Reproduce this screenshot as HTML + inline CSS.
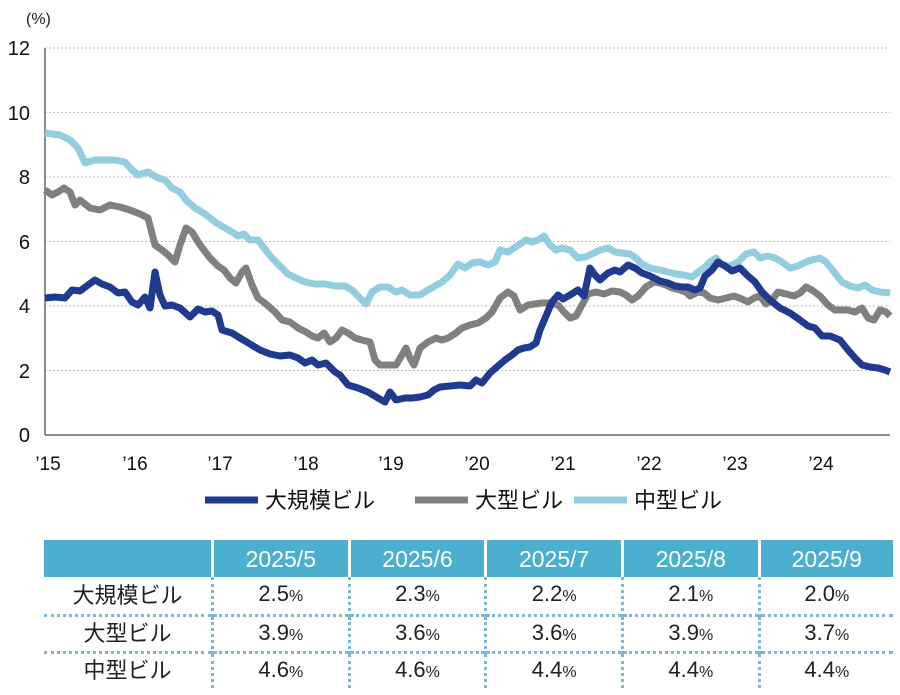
<!DOCTYPE html><html><head><meta charset="utf-8"><style>
body{margin:0;background:#fff;width:900px;height:695px;overflow:hidden;font-family:"Liberation Sans","Noto Sans CJK JP",sans-serif}
table{position:absolute;left:44px;top:540px;border-collapse:collapse;width:849px}
td{height:34px;text-align:center;font-size:22px;color:#222;padding:0;border-left:3px dotted #7fb8cc;border-top:3px dotted #7fb8cc;line-height:30px}
td:first-child{border-left:none}
tr.h td{background:#4bb0cf;color:#fff;border:none;border-left:3px solid #fff;font-size:23px;height:37px}
tr.h td:first-child{border-left:none}
tr:nth-child(2) td{border-top:none;height:37px}
small{font-size:16px}
</style></head><body>
<svg width="900" height="540" style="position:absolute;left:0;top:0" font-family="Liberation Sans, Noto Sans CJK JP, sans-serif">
<g stroke="#bbb" stroke-dasharray="2,2" stroke-width="1">
<line x1="45" x2="890" y1="48" y2="48"/><line x1="45" x2="890" y1="112.5" y2="112.5"/><line x1="45" x2="890" y1="177" y2="177"/><line x1="45" x2="890" y1="241.5" y2="241.5"/><line x1="45" x2="890" y1="306" y2="306"/><line x1="45" x2="890" y1="370.5" y2="370.5"/>
</g>
<line x1="45" x2="45" y1="48" y2="435" stroke="#666" stroke-width="1.5"/>
<line x1="45" x2="890" y1="435" y2="435" stroke="#666" stroke-width="1.5"/>
<g font-size="20" fill="#111" text-anchor="end">
<text x="30" y="55">12</text><text x="30" y="120">10</text><text x="30" y="184">8</text><text x="30" y="249">6</text><text x="30" y="313">4</text><text x="30" y="378">2</text><text x="30" y="442">0</text></g>
<text x="26" y="24" font-size="16" fill="#222">(%)</text>
<g font-size="19" fill="#111" text-anchor="middle">
<text x="48" y="470">’15</text><text x="135" y="470">’16</text><text x="220" y="470">’17</text><text x="306" y="470">’18</text><text x="391" y="470">’19</text><text x="477" y="470">’20</text><text x="563" y="470">’21</text><text x="649" y="470">’22</text><text x="735" y="470">’23</text><text x="821" y="470">’24</text></g>
<g fill="none" stroke-width="7" stroke-linejoin="round">
<polyline stroke="#92cde0" points="45,133 60,135 70,140 78,148 85,163 95,160 105,160 115,160 125,162 132,170 138,175 148,172 158,178 165,180 172,188 180,192 186,200 195,208 205,214 215,222 225,228 232,232 238,236 244,234 250,240 258,240 264,248 272,258 280,266 288,274 296,278 305,282 315,284 325,284 335,286 345,286 352,290 360,298 366,304 372,292 380,287 388,287 396,292 402,290 410,295 420,295 428,290 435,286 442,282 450,275 458,264 465,268 472,263 480,262 488,265 495,262 500,250 508,252 514,248 520,244 526,240 532,242 538,240 544,236 550,245 556,250 562,248 570,250 578,258 585,257 592,254 600,250 608,248 615,252 622,253 630,254 636,258 642,264 650,268 660,270 668,272 676,274 684,275 692,277 698,272 704,268 710,262 716,258 722,265 730,266 738,262 746,254 754,252 760,258 768,256 775,258 782,262 790,268 798,266 806,262 812,260 820,258 826,262 834,272 842,282 850,286 858,288 865,285 872,290 880,292 890,293"/>
<polyline stroke="#808080" points="45,190 52,195 58,192 64,188 70,192 75,205 80,200 90,208 100,210 110,205 120,207 130,210 140,214 148,218 155,245 162,250 168,255 175,262 180,245 186,228 192,232 200,245 210,258 218,266 224,270 230,278 236,283 242,272 246,268 252,285 258,298 266,304 275,312 282,320 290,322 298,328 306,332 312,336 318,338 324,333 330,342 336,338 342,330 348,333 355,338 362,340 370,342 375,360 380,365 388,365 396,365 402,355 406,348 410,358 414,365 420,348 428,342 436,338 442,340 448,338 456,333 462,328 470,325 478,323 486,318 492,312 500,298 508,292 514,296 520,310 528,305 535,304 542,303 550,303 558,305 564,312 570,318 576,316 582,305 588,294 596,292 604,294 612,291 620,292 626,295 632,300 638,296 646,287 654,282 660,283 666,285 672,288 680,290 686,292 690,296 698,292 704,293 710,298 718,300 726,298 734,296 742,299 748,302 754,298 760,296 766,304 772,300 778,292 786,294 794,296 800,293 806,287 812,290 820,296 828,305 835,310 842,310 848,310 855,312 862,308 868,318 874,320 880,310 886,312 890,316"/>
<polyline stroke="#1f3a8f" points="45,298 55,297 65,298 72,290 80,291 88,285 95,280 102,284 110,287 118,293 125,292 132,302 138,305 145,297 150,308 155,272 160,295 165,306 172,305 180,308 190,317 198,309 205,312 212,311 218,315 222,330 232,333 240,338 250,344 260,350 270,354 280,356 290,355 298,358 305,363 312,360 318,365 326,363 335,372 340,375 348,385 358,388 368,392 378,398 385,402 390,392 396,400 405,398 412,398 420,397 428,395 434,390 440,387 450,386 460,385 470,386 476,380 482,383 490,373 498,366 505,360 512,355 518,350 524,348 530,347 536,343 540,330 546,316 552,302 558,295 563,299 570,295 578,290 584,296 590,268 595,275 600,280 608,273 615,270 620,272 628,265 635,268 642,273 650,276 660,281 668,283 675,286 682,287 688,287 695,290 700,288 705,276 712,270 718,262 725,266 732,271 740,268 748,276 755,282 762,292 770,300 780,308 790,313 800,320 808,326 815,328 822,336 830,336 840,340 848,350 855,358 862,365 870,367 878,368 885,370 890,372"/>
</g>
<g stroke-width="7"><line x1="205" x2="258" y1="500" y2="500" stroke="#1f3a8f"/><line x1="415" x2="468" y1="500" y2="500" stroke="#808080"/><line x1="574" x2="627" y1="500" y2="500" stroke="#92cde0"/></g>
<g font-size="22" fill="#111"><text x="265" y="508">大規模ビル</text><text x="475" y="508">大型ビル</text><text x="634" y="508">中型ビル</text></g>
</svg>
<table>
<tr class="h"><td style="width:167px"></td><td>2025/5</td><td>2025/6</td><td>2025/7</td><td>2025/8</td><td>2025/9</td></tr>
<tr><td>大規模ビル</td><td>2.5<small>%</small></td><td>2.3<small>%</small></td><td>2.2<small>%</small></td><td>2.1<small>%</small></td><td>2.0<small>%</small></td></tr>
<tr><td>大型ビル</td><td>3.9<small>%</small></td><td>3.6<small>%</small></td><td>3.6<small>%</small></td><td>3.9<small>%</small></td><td>3.7<small>%</small></td></tr>
<tr><td>中型ビル</td><td>4.6<small>%</small></td><td>4.6<small>%</small></td><td>4.4<small>%</small></td><td>4.4<small>%</small></td><td>4.4<small>%</small></td></tr>
</table>
</body></html>
